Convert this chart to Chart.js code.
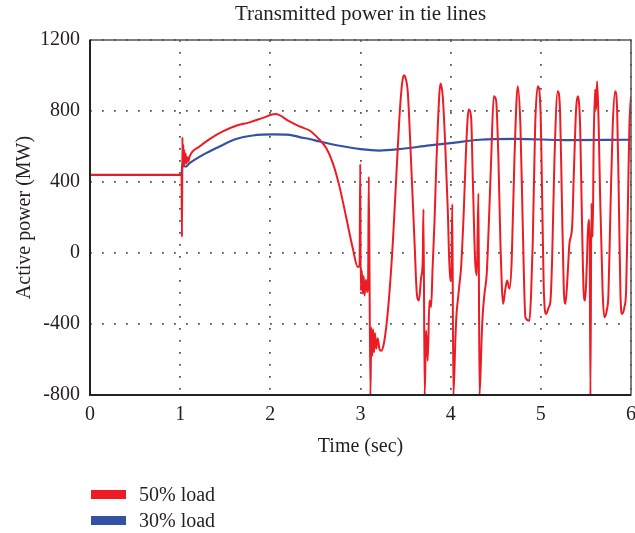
<!DOCTYPE html>
<html>
<head>
<meta charset="utf-8">
<script src="https://cdn.jsdelivr.net/npm/chart.js@4.4.1/dist/chart.umd.min.js"></script>
<style>
  html, body { margin: 0; padding: 0; background: #fff; overflow: hidden; }
  #wrap { position: relative; width: 635px; height: 533px; }
  #legend { position: absolute; left: 91px; top: 481px; font: 20px "Liberation Serif", "DejaVu Serif", serif; color: #231f20; }
  #legend .row { display: flex; align-items: center; height: 26px; }
  #legend .sw { width: 35px; height: 9px; margin-right: 13px; }
</style>
</head>
<body>
<div id="wrap">
  <canvas id="chart" width="635" height="533"></canvas>
  <div id="legend"></div>
</div>
<script>
// -----------------------------
// Data
// -----------------------------
const xTicks = [0, 1, 2, 3, 4, 5, 6];
const yTicks = [-800, -400, 0, 400, 800, 1200];

// 50% load
const time50 = [
  0, 1.015, 1.02, 1.025, 1.03, 1.035, 1.04, 1.045, 1.05, 1.06, 1.07, 1.08, 1.09, 1.104,
  1.215, 1.326, 1.473, 1.62, 1.769, 1.917, 2.058, 2.213, 2.324, 2.435, 2.546, 2.62, 2.693,
  2.767, 2.84, 2.915, 2.97, 2.99, 2.997, 3.003, 3.015, 3.025, 3.035, 3.045, 3.06, 3.075,
  3.085, 3.092, 3.11, 3.12, 3.13, 3.14, 3.15, 3.16, 3.175, 3.19, 3.21, 3.23, 3.255, 3.285,
  3.32, 3.36, 3.395, 3.43, 3.46, 3.48, 3.5, 3.525, 3.56, 3.6, 3.625, 3.648, 3.673, 3.69,
  3.698, 3.712, 3.727, 3.746, 3.764, 3.783, 3.8, 3.82, 3.839, 3.857, 3.887, 3.912, 3.939,
  3.968, 3.994, 4.008, 4.018, 4.03, 4.053, 4.065, 4.079, 4.098, 4.116, 4.146, 4.172, 4.2,
  4.227, 4.245, 4.271, 4.29, 4.308, 4.32, 4.345, 4.356, 4.375, 4.4, 4.422, 4.449, 4.478,
  4.504, 4.53, 4.552, 4.582, 4.604, 4.626, 4.652, 4.677, 4.707, 4.744, 4.774, 4.8, 4.829,
  4.874, 4.892, 4.91, 4.937, 4.966, 4.996, 5.014, 5.032, 5.059, 5.088, 5.107, 5.125, 5.151,
  5.187, 5.214, 5.232, 5.254, 5.273, 5.298, 5.317, 5.347, 5.365, 5.391, 5.409, 5.436, 5.454,
  5.476, 5.491, 5.509, 5.528, 5.54, 5.55, 5.561, 5.575, 5.586, 5.602, 5.613, 5.624, 5.64,
  5.657, 5.686, 5.705, 5.731, 5.75, 5.772, 5.797, 5.824, 5.846, 5.864, 5.883, 5.901, 5.927,
  5.946, 5.968, 5.982, 6.0
];
const power50 = [
  440, 440, 90, 651, 480, 610, 490, 580, 500, 560, 505, 540, 515, 543,
  600, 642, 685, 717, 736, 761, 783, 741, 713, 690, 638, 591, 506,
  374, 204, 25, -79, -70, 502, -211, -100, -230, -130, -240, -150, -220,
  -120, 430, -800, -420, -580, -430, -560, -450, -540, -480, -540, -551, -520, -419,
  -230, 72, 411, 751, 950, 1002, 985, 902, 525, 53, -230, -268, -136, -50,
  246, -800, -437, -607, -268, -305, -79, 166, 468, 713, 955, 883, 619,
  242, -155, -120, 276, -800, -475, -343, -268, -173, -79, 242, 600, 808,
  761, 430, -41, -126, 336, -800, -456, -343, -230, -117, 147, 525, 883,
  860, 525, 53, -286, -211, -155, -202, -41, 525, 940, 713, 147, -362,
  -381, -230, 53, 713, 940, 808, 336, -192, -343, -305, -268, -41, 525,
  911, 789, 336, -192, -286, -117, 53, 147, 430, 808, 883, 713, 242,
  -230, -268, -79, 185, 185, -800, 279, 91, 619, 921, 808, 968, 751,
  336, -230, -362, -324, -230, 242, 713, 911, 808, 336, -230, -343, -305,
  -211, 336, 713, 883
];

// 30% load
const time30 = [
  0, 1.015, 1.025, 1.04, 1.06, 1.104, 1.252, 1.437, 1.62, 1.806, 2.028, 2.213, 2.324,
  2.435, 2.546, 2.767, 3.0, 3.21, 3.43, 3.765, 4.0, 4.32, 4.726, 5.28, 6.0
];
const power30 = [
  440, 440, 502, 490, 487, 506, 553, 600, 642, 662, 668, 666, 653,
  642, 628, 604, 585, 577, 585, 606, 619, 638, 643, 636, 638
];

const labels = ["50% load", "30% load"];
const colors = ["#ed1c24", "#3452a4"];

const toPoints = (xs, ys) => xs.map((x, i) => ({ x: x, y: ys[i] }));

// -----------------------------
// Chart
// -----------------------------
Chart.defaults.font.family = "'Liberation Serif', 'DejaVu Serif', serif";
Chart.defaults.font.size = 20;
Chart.defaults.color = "#231f20";

// frame around the plot area
const framePlugin = {
  id: "frame",
  afterDatasetsDraw(chart) {
    const { ctx, chartArea: a } = chart;
    ctx.save();
    ctx.strokeStyle = "#555";
    ctx.lineWidth = 1.5;
    ctx.strokeRect(a.left, a.top, a.right - a.left, a.bottom - a.top);
    ctx.strokeStyle = "#222";
    ctx.lineWidth = 2;
    ctx.beginPath();
    ctx.moveTo(a.left, a.top);
    ctx.lineTo(a.left, a.bottom);
    ctx.lineTo(a.right, a.bottom);
    ctx.stroke();
    ctx.restore();
  }
};

const chart = new Chart(document.getElementById("chart"), {
  type: "line",
  data: {
    datasets: [
      {
        label: labels[0],
        data: toPoints(time50, power50),
        borderColor: colors[0],
        backgroundColor: colors[0],
        borderWidth: 2,
        pointRadius: 0,
        cubicInterpolationMode: "monotone"
      },
      {
        label: labels[1],
        data: toPoints(time30, power30),
        borderColor: colors[1],
        backgroundColor: colors[1],
        borderWidth: 2.2,
        pointRadius: 0,
        cubicInterpolationMode: "monotone"
      }
    ]
  },
  options: {
    responsive: false,
    animation: false,
    layout: { padding: { left: 0, right: 4, top: 0, bottom: 73 } },
    plugins: {
      legend: { display: false },
      tooltip: { enabled: false },
      title: {
        display: true,
        text: "Transmitted power in tie lines",
        fullSize: false,
        font: { size: 21, weight: "normal" },
        padding: { top: 2, bottom: 12.8 }
      }
    },
    scales: {
      x: {
        type: "linear",
        min: 0,
        max: 6,
        afterBuildTicks: (s) => { s.ticks = xTicks.map((v) => ({ value: v })); },
        afterFit: (s) => { s.height = 65; s.paddingLeft = 0; s.paddingRight = 0; },
        ticks: { padding: 8, maxRotation: 0, autoSkip: false, callback: (v) => String(v) },
        grid: { color: "#555", lineWidth: 1.8, drawTicks: false },
        border: { display: false, dash: [1.8, 10.2] },
        title: { display: true, text: "Time (sec)", padding: { top: 0, bottom: 1 } }
      },
      y: {
        min: -800,
        max: 1200,
        afterBuildTicks: (s) => { s.ticks = yTicks.map((v) => ({ value: v })); },
        afterFit: (s) => { s.width = 90; s.paddingTop = 0; s.paddingBottom = 0; },
        ticks: { padding: 10, autoSkip: false, callback: (v) => String(v) },
        grid: { color: "#555", lineWidth: 1.8, drawTicks: false },
        border: { display: false, dash: [1.8, 10.2] },
        title: { display: true, text: "Active power (MW)", padding: { top: 12.5, bottom: 0 } }
      }
    }
  },
  plugins: [framePlugin]
});

// -----------------------------
// Legend (stacked, below the plot)
// -----------------------------
const legendEl = document.getElementById("legend");
chart.data.datasets.forEach((ds) => {
  const row = document.createElement("div");
  row.className = "row";
  row.innerHTML = `<span class="sw" style="background:${ds.borderColor}"></span><span>${ds.label}</span>`;
  legendEl.appendChild(row);
});
</script>
</body>
</html>
